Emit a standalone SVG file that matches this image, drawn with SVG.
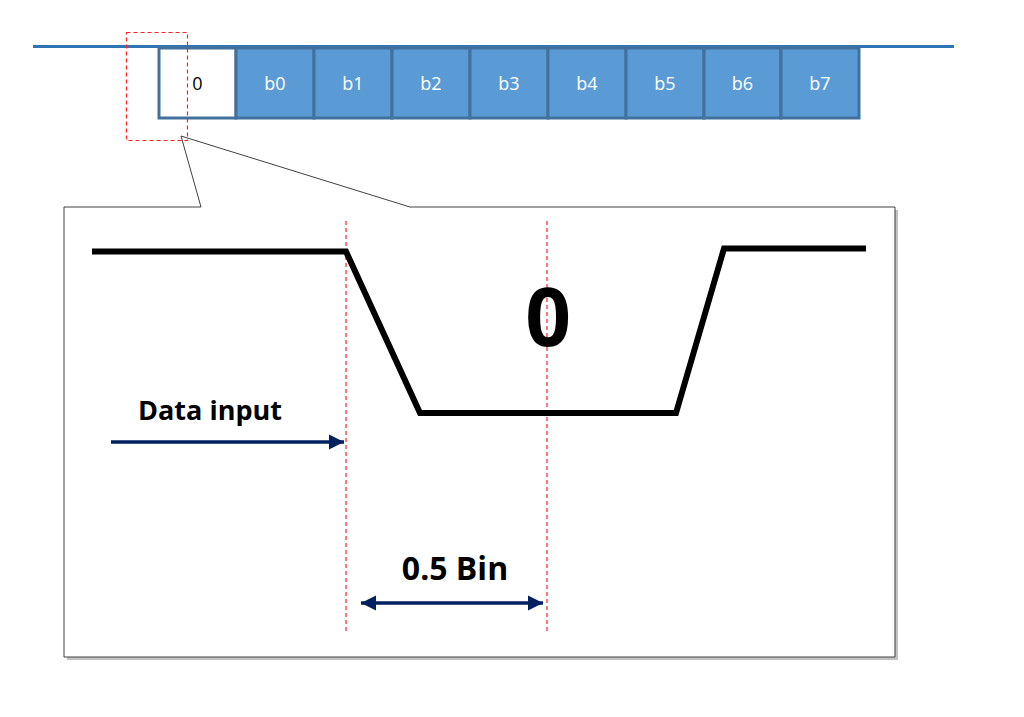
<svg xmlns="http://www.w3.org/2000/svg" width="1024" height="717" viewBox="0 0 1024 717">
<style>
.cell{fill:#5B9BD5;stroke:#41719C;stroke-width:3}
.cell0{fill:#FFFFFF;stroke:#41719C;stroke-width:3}
.ct{font-family:"Open Sans","Liberation Sans",sans-serif;font-size:18px;fill:#FFFFFF;text-anchor:middle;dominant-baseline:central}
.red{stroke:#FF2020;stroke-width:1.2;stroke-dasharray:4,3;fill:none}
.wave{stroke:#000;stroke-width:6;fill:none;stroke-linejoin:miter}
.arr{stroke:#002060;stroke-width:3.5;fill:none}
.lbl{font-family:"Open Sans","Liberation Sans",sans-serif;font-weight:bold;fill:#000}
</style>
<defs>
<marker id="ah" viewBox="0 0 10 10" refX="10" refY="5" markerWidth="4.4" markerHeight="4.4" markerUnits="strokeWidth" orient="auto-start-reverse">
<path d="M0,0 L10,5 L0,10 z" fill="#002060"/>
</marker>
</defs>
<rect width="1024" height="717" fill="#FFFFFF"/>
<line x1="33" y1="46.5" x2="954" y2="46.5" stroke="#2E75B6" stroke-width="3"/>
<g id="cells">
<g id="cell-0"><rect class="cell0" x="159" y="48" width="77" height="70"/><text class="ct" x="197.5" y="83" style="fill:#000">0</text></g>
<g id="cell-b0"><rect class="cell" x="236" y="48" width="78" height="70"/><text class="ct" x="275" y="83">b0</text></g>
<g id="cell-b1"><rect class="cell" x="314" y="48" width="78" height="70"/><text class="ct" x="353" y="83">b1</text></g>
<g id="cell-b2"><rect class="cell" x="392" y="48" width="78" height="70"/><text class="ct" x="431" y="83">b2</text></g>
<g id="cell-b3"><rect class="cell" x="470" y="48" width="78" height="70"/><text class="ct" x="509" y="83">b3</text></g>
<g id="cell-b4"><rect class="cell" x="548" y="48" width="78" height="70"/><text class="ct" x="587" y="83">b4</text></g>
<g id="cell-b5"><rect class="cell" x="626" y="48" width="78" height="70"/><text class="ct" x="665" y="83">b5</text></g>
<g id="cell-b6"><rect class="cell" x="704" y="48" width="77" height="70"/><text class="ct" x="742.5" y="83">b6</text></g>
<g id="cell-b7"><rect class="cell" x="781" y="48" width="78" height="70"/><text class="ct" x="820" y="83">b7</text></g>
</g>
<g id="callout">
<polygon points="67,210 204,210 184,139 413,210 898,210 898,660 67,660" fill="#9a9a9a" opacity="0.6"/>
<polygon points="64,207 201,207 181,136 410,207 895,207 895,657 64,657" fill="#FFFFFF" stroke="#404040" stroke-width="1"/>
</g>
<rect id="zoom-marker" class="red" x="126.5" y="32.5" width="61" height="108"/>
<g id="guides">
<line class="red" x1="346" y1="221" x2="346" y2="631"/>
<line class="red" x1="547" y1="221" x2="547" y2="634"/>
</g>
<polyline id="waveform" class="wave" points="92,251.5 346,251.5 420,413 676,413 724,248.5 866,248.5"/>
<text id="big-zero" class="lbl" x="548" y="346" font-size="80" text-anchor="middle">0</text>
<g id="connectors">
<line class="arr" x1="111" y1="442" x2="344" y2="442" marker-end="url(#ah)"/>
<line class="arr" x1="361" y1="603" x2="543" y2="603" marker-start="url(#ah)" marker-end="url(#ah)"/>
</g>
<text id="lbl-data" class="lbl" x="210" y="420" font-size="27" text-anchor="middle">Data input</text>
<text id="lbl-bin" class="lbl" x="455" y="580" font-size="32" text-anchor="middle">0.5 Bin</text>
</svg>
